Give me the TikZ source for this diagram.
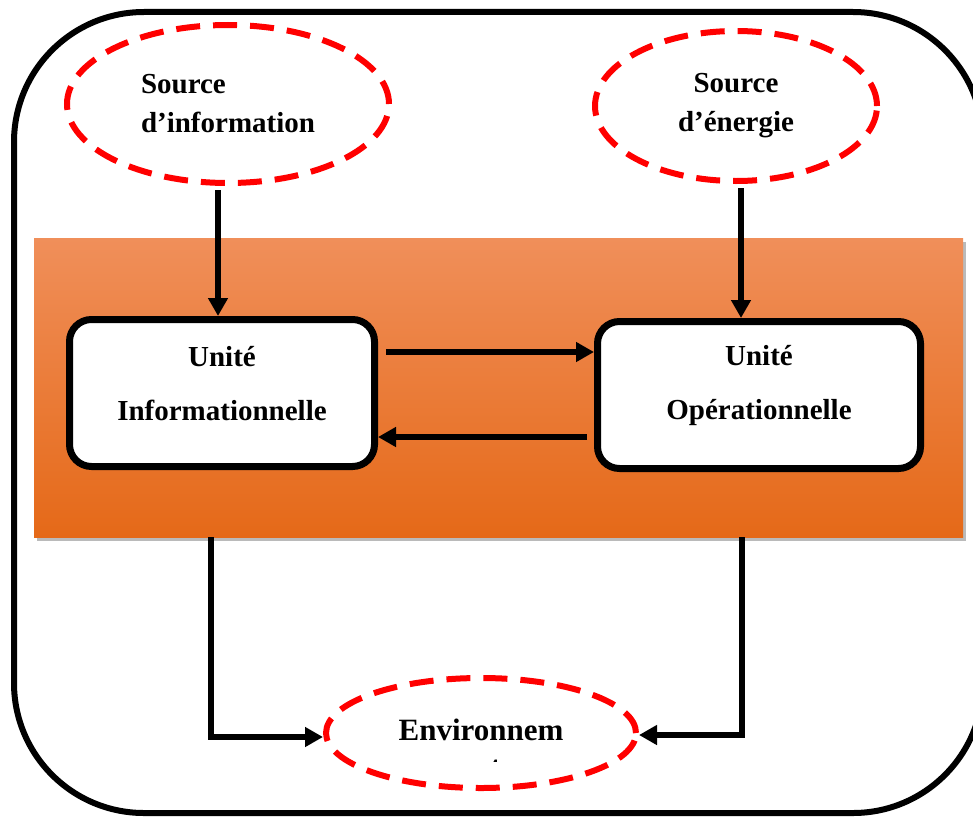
\documentclass[tikz,border=0pt]{standalone}
\usepackage{fontspec}
\setmainfont{Liberation Serif}
\usetikzlibrary{arrows.meta,shapes.geometric,shadows,calc}
\definecolor{bandtop}{RGB}{240,143,90}
\definecolor{bandmid}{RGB}{245,124,40}
\definecolor{bandbot}{RGB}{229,105,24}
\begin{document}
\begin{tikzpicture}[x=1pt,y=-1pt,
  srcell/.style={ellipse, draw=red, line width=6pt, dash pattern=on 24pt off 13pt, inner sep=0pt, align=center,
    font=\fontsize{29}{39}\selectfont\bfseries},
  unitbox/.style={draw=black, fill=white, line width=7pt, rounded corners=22pt, inner sep=0pt},
  unittext/.style={font=\fontsize{29}{54}\selectfont\bfseries, align=center, yshift=9pt},
  conn/.style={line width=5.5pt, -{Triangle[length=18pt,width=19pt]}}
]
\useasboundingbox (0,0) rectangle (973,816);
% outer frame
\draw[line width=6pt, rounded corners=130pt] (14,12) rectangle (983,813);
% orange band
\node[rectangle, minimum width=929pt, minimum height=299pt, inner sep=0pt,
  top color=bandtop, middle color=bandmid, bottom color=bandbot,
  drop shadow={shadow xshift=3pt, shadow yshift=-4pt, fill=black!45, opacity=0.6}]
  (band) at (498.5,387.5) {};
% units
\node[unitbox, minimum width=305pt, minimum height=147pt,
  label={[unittext]center:Unité\\Informationnelle}] (ui) at (222,393) {};
\node[unitbox, minimum width=323pt, minimum height=147pt,
  label={[unittext]center:Unité\\Opérationnelle}] (ue) at (759,395) {};
% sources
\node[srcell, minimum width=322pt, minimum height=158pt, align=left] (si) at (228,104) {Source\\d’information};
\node[srcell, minimum width=282pt, minimum height=150pt] (se) at (736,106) {Source\\d’énergie};
\node[srcell, minimum width=310pt, minimum height=110pt] (env) at (481,733) {};
\node[font=\fontsize{31}{40}\selectfont\bfseries, anchor=base] (envtxt) at (481,740) {Environnem};
\begin{scope}
  \clip (440,745) rectangle (530,761);
  \node[font=\fontsize{31}{40}\selectfont\bfseries, anchor=base] (envrest) at (480,777) {ent};
\end{scope}
% connectors
\draw[conn] ([yshift=-4pt,xshift=-10pt]si.south) -- ([xshift=-4pt]ui.north);
\draw[conn] ([yshift=-4pt,xshift=5pt]se.south) -- ([xshift=5pt]se.south |- ue.north);
\draw[conn] ([yshift=41pt,xshift=8pt]ui.east) -- ([yshift=41pt]ui.east -| ue.west);
\draw[conn] ([yshift=-44pt,xshift=-7pt]ui.east -| ue.west) -- ([yshift=-44pt]ui.east);
\draw[conn] ([xshift=-11pt]band.south -| ui.south) |- ([yshift=-4pt]env.west);
\draw[conn] ([xshift=6pt]band.south -| se.south) |- ([yshift=-2pt]env.east);
\end{tikzpicture}
\end{document}
